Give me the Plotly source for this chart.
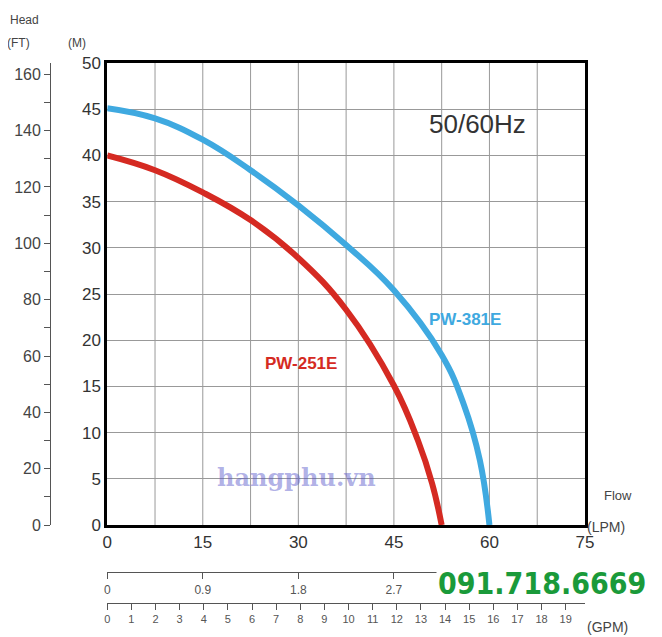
import plotly.graph_objects as go

# flow in LPM, head in M
pw381_flow = [0, 7.5, 15, 22.5, 30, 37.5, 45, 52.5, 56, 58.5, 60]
pw381_head = [45.1, 44.0, 41.7, 38.4, 34.6, 30.3, 25.4, 18.4, 13.0, 7.0, 0]
pw251_flow = [0, 7.5, 15, 22.5, 30, 37.5, 45, 48.75, 51, 52.5]
pw251_head = [40, 38.4, 36.0, 33.0, 28.9, 23.3, 15.1, 9.2, 4.5, 0]

lpm_ticks = [0, 15, 30, 45, 60, 75]
m3h_ticks = [0, 0.9, 1.8, 2.7, 3.6, 4.5]
gpm_ticks = list(range(0, 20))
ft_ticks = list(range(0, 161, 20))

fig = go.Figure()
fig.add_trace(go.Scatter(x=pw381_flow, y=pw381_head, mode="lines", line=dict(color="#3fa9e0", width=6, shape="spline", smoothing=1.2)))
fig.add_trace(go.Scatter(x=pw251_flow, y=pw251_head, mode="lines", line=dict(color="#d52a22", width=6, shape="spline", smoothing=1.2)))
# dummy traces so the extra axes are drawn
fig.add_trace(go.Scatter(x=[0], y=[0], xaxis="x2", mode="markers", marker=dict(opacity=0)))
fig.add_trace(go.Scatter(x=[0], y=[0], xaxis="x3", mode="markers", marker=dict(opacity=0)))
fig.add_trace(go.Scatter(x=[0], y=[0], yaxis="y2", mode="markers", marker=dict(opacity=0)))

xdom = [0.172, 1]
fig.update_layout(
    width=654, height=629, showlegend=False,
    margin=dict(l=0, r=77, t=55, b=0),
    plot_bgcolor="white", paper_bgcolor="white",
    font=dict(family="Liberation Sans", size=16, color="#333"),
    xaxis=dict(domain=xdom, range=[0, 75], tickvals=lpm_ticks, automargin=False,
               showgrid=False, zeroline=False, showline=True, mirror=True,
               linecolor="black", linewidth=3, ticks="", tickfont=dict(size=17)),
    yaxis=dict(domain=[0.195, 1], range=[0, 50], dtick=5, showgrid=True, automargin=False,
               gridcolor="#999", gridwidth=1, zeroline=False, showline=True, mirror=True,
               linecolor="black", linewidth=3, ticks="", tickfont=dict(size=17)),
    xaxis2=dict(overlaying="x", anchor="free", position=0.113, domain=xdom, automargin=False,
                range=[0, 4.5], tickvals=m3h_ticks, showgrid=False, zeroline=False,
                showline=True, linecolor="#555", ticks="outside", ticklen=6,
                tickcolor="#555", tickfont=dict(size=12, color="#555")),
    xaxis3=dict(overlaying="x", anchor="free", position=0.059, domain=xdom, automargin=False,
                range=[0, 19.8], tickvals=gpm_ticks, showgrid=False, zeroline=False,
                showline=True, linecolor="#555", ticks="outside", ticklen=6,
                tickcolor="#555", tickfont=dict(size=11, color="#555")),
    yaxis2=dict(overlaying="y", anchor="free", position=0.073, side="left", automargin=False,
                range=[0, 164], tickvals=ft_ticks, showgrid=False, zeroline=False,
                showline=True, linecolor="#555", ticks="outside", ticklen=6,
                tickcolor="#555", minor=dict(dtick=10, ticks="outside", ticklen=6, tickcolor="#555"),
                tickfont=dict(size=16, color="#444")),
)
# vertical grid every 7.5 LPM
for v in [7.5 * i for i in range(1, 10)]:
    fig.add_shape(type="line", x0=v, x1=v, y0=0, y1=50, xref="x", yref="y",
                  line=dict(color="#999", width=1), layer="below")

ann = [
    (0.67, 0.905, "50/60Hz", 26, "#333"),
    (0.67, 0.445, "<b>PW-381E</b>", 17, "#3fa9e0"),
    (0.325, 0.35, "<b>PW-251E</b>", 17, "#d52a22"),
]
for x, y, t, s, c in ann:
    fig.add_annotation(x=x, y=y, xref="x domain", yref="y domain", text=t,
                       showarrow=False, font=dict(size=s, color=c), xanchor="left")

paper = [
    (0.0, 1.09, "Head", 12), (-0.005, 1.05, "(FT)", 12), (0.1, 1.05, "(M)", 12),
    (1.03, 0.23, "Flow", 13), (1.0, 0.175, "(LPM)", 14), (1.0, 0.0, "(GPM)", 14),
]
for x, y, t, s in paper:
    fig.add_annotation(x=x, y=y, xref="paper", yref="paper", text=t, showarrow=False,
                       xanchor="left", font=dict(size=s, color="#444"))
fig.add_annotation(x=1.11, y=0.06, xref="paper", yref="paper", text="<b>091.718.6669</b>",
                   showarrow=False, xanchor="right", bgcolor="white",
                   font=dict(size=30, color="#1a9a3a", family="DejaVu Sans Condensed"))
fig.add_annotation(x=0.5, y=0.25, xref="paper", yref="paper", text="<b>hangphu.vn</b>",
                   showarrow=False, font=dict(size=24, color="rgba(80,80,200,0.45)", family="DejaVu Serif"))

fig.write_html("out.html")
